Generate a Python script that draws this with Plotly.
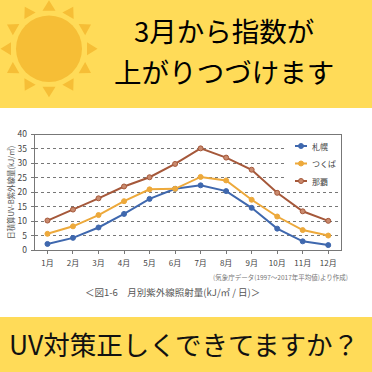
import math
import plotly.graph_objects as go

months = ["1月","2月","3月","4月","5月","6月","7月","8月","9月","10月","11月","12月"]
sapporo = [2.1,4.2,7.8,12.5,17.7,21.2,22.4,20.4,14.6,7.4,3.0,1.7]
tsukuba = [5.6,8.2,12.1,16.9,21.0,21.2,25.3,24.1,17.4,11.6,6.9,5.0]
naha = [10.2,14.0,17.9,22.0,25.2,29.8,35.2,32.0,27.8,19.8,13.4,10.1]
y_ticks = [0,5,10,15,20,25,30,35,40]
series_names = ["札幌", "つくば", "那覇"]

W = 372
FONT = "Noto Sans CJK JP"
YELLOW = "#FFDB58"
SUN = "#F6BE36"
def px(x): return x / W
def py(y): return 1 - y / W
PL, PR, PT, PB = 34.7, 341, 134.5, 250

fig = go.Figure()
colors = ["#3F68AE", "#EDA93B", "#A5583A"]
fills = ["#3F68AE", "#EDA93B", "#C98A6E"]
for name, vals, color, fill in zip(series_names, [sapporo, tsukuba, naha], colors, fills):
    fig.add_trace(go.Scatter(x=months, y=vals, name=name, mode="lines+markers", showlegend=False,
                             line=dict(color=color, width=2),
                             marker=dict(size=5, color=fill, line=dict(color=color, width=1))))

shapes = [
    dict(type="rect", xref="paper", yref="paper", x0=0, x1=1, y0=py(108), y1=1,
         fillcolor=YELLOW, line_width=0, layer="below"),
    dict(type="rect", xref="paper", yref="paper", x0=0, x1=1, y0=0, y1=py(317),
         fillcolor=YELLOW, line_width=0, layer="below"),
    dict(type="circle", xref="paper", yref="paper", x0=px(16), x1=px(82), y0=py(82), y1=py(15.5),
         fillcolor=SUN, line_width=0),
    # clears the gridlines behind the key (no data passes through this box)
    dict(type="rect", xref="paper", yref="paper", x0=px(285.5), x1=px(340), y0=py(186), y1=py(139),
         fillcolor="white", line_width=0, layer="above"),
]
cx, cy = 49, 48.7
for i in range(12):
    a = math.radians(i * 30)
    r0, r1, hw = 38, 48.5, 6.5
    bx, by = cx + r0 * math.sin(a), cy - r0 * math.cos(a)
    tx, ty = cx + r1 * math.sin(a), cy - r1 * math.cos(a)
    ox, oy = hw * math.cos(a), hw * math.sin(a)
    pts = [(bx - ox, by - oy), (bx + ox, by + oy), (tx, ty)]
    path = "M " + " L ".join(f"{px(p[0]):.5f},{py(p[1]):.5f}" for p in pts) + " Z"
    shapes.append(dict(type="path", xref="paper", yref="paper", path=path,
                       fillcolor=SUN, line_width=0))

def note(text, x, y, size, color="#000000", angle=0, xanchor="center"):
    return dict(text=text, xref="paper", yref="paper", x=px(x), y=py(y), showarrow=False,
                xanchor=xanchor, yanchor="middle", textangle=angle,
                font=dict(family=FONT, size=size, color=color))

annotations = [
    note("3月から指数が", 224, 30, 27.5),
    note("上がりつづけます", 223.5, 71, 27.5),
    note("UV対策正しくできてますか？", 184, 343, 26.5, "#111111"),
    note("日積算UV-B紫外線量(kJ/㎡)", 10, 193, 7.5, "#555555", -90),
    note("(気象庁データ(1997～2017年平均値)より作成)", 350, 276.5, 6.5, "#777777", xanchor="right"),
    note("＜図1-6　月別紫外線照射量(kJ/㎡ / 日)＞", 83, 291.5, 9.5, "#555555", xanchor="left"),
]

# key: short line + dot + label, matching the reference's compact key
for name, color, fill, ky in zip(series_names, colors, fills, [146, 163.5, 181]):
    shapes.append(dict(type="line", xref="paper", yref="paper", x0=px(295), x1=px(307),
                       y0=py(ky), y1=py(ky), line=dict(color=color, width=2)))
    shapes.append(dict(type="circle", xref="paper", yref="paper", x0=px(298.5), x1=px(303.5),
                       y0=py(ky + 2.5), y1=py(ky - 2.5), fillcolor=fill, line=dict(color=color, width=1)))
    annotations.append(note(name, 310, ky, 8, "#444444", xanchor="left"))

fig.update_layout(
    width=W, height=W, margin=dict(l=0, r=0, t=0, b=0, pad=0, autoexpand=False),
    paper_bgcolor="white", plot_bgcolor="white", showlegend=False,
    shapes=shapes, annotations=annotations,
    font=dict(family=FONT, color="#444444"),
    xaxis=dict(domain=[px(PL), px(PR)], type="category", categoryorder="array",
               categoryarray=months, range=[-0.5, 11.5], showgrid=False,
               ticks="outside", ticklen=3, tickcolor="#777777", tickwidth=1,
               ticklabelstandoff=2,
               showline=True, linecolor="#777777", linewidth=1, mirror=True,
               tickfont=dict(size=8, color="#444444")),
    yaxis=dict(domain=[py(PB), py(PT)], range=[0, 40], tickvals=y_ticks,
               showgrid=True, gridcolor="#777777", griddash="dot", gridwidth=1,
               zeroline=False, ticks="outside", ticklen=3, tickcolor="#777777",
               ticklabelstandoff=2,
               showline=True, linecolor="#777777", linewidth=1, mirror=True,
               tickfont=dict(size=8.5, color="#444444")),
)
fig.write_html("out.html", config=dict(displayModeBar=False),
               post_script="document.documentElement.style.margin='0';document.body.style.margin='0';document.body.style.overflow='hidden';")
